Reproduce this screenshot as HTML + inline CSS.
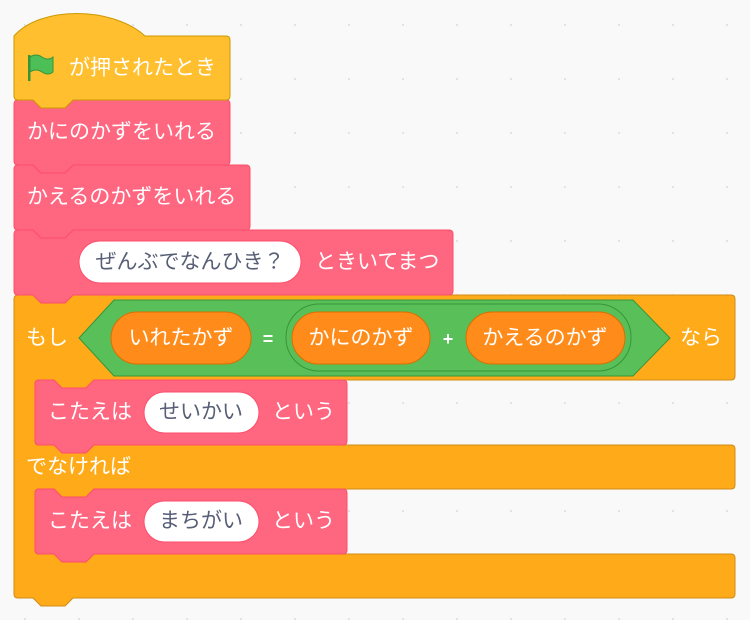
<!DOCTYPE html>
<html><head><meta charset="utf-8"><style>
html,body{margin:0;padding:0;background:#F9F9F9;}
svg{display:block}
text{font-family:"Liberation Sans","Noto Sans CJK JP",sans-serif;font-size:21px;fill:#fff;dominant-baseline:central}
.d{fill:#575E75}
</style></head><body>
<svg id="s" width="750" height="620" xmlns="http://www.w3.org/2000/svg">
<defs><pattern id="g" x="24" y="24" width="54" height="54" patternUnits="userSpaceOnUse"><circle cx="1" cy="1" r="1" fill="#dcdcdc"/></pattern></defs>
<rect width="750" height="620" fill="url(#g)"/>
<g id="blocks"></g>
</svg>
<script>
function stack(x,y,w,h){return `M${x},${y+4} Q${x},${y} ${x+4},${y} L${x+19},${y} L${x+27},${y+8} L${x+51},${y+8} L${x+59},${y} L${x+w-4},${y} Q${x+w},${y} ${x+w},${y+4} L${x+w},${y+h-4} Q${x+w},${y+h} ${x+w-4},${y+h} L${x+59},${y+h} L${x+51},${y+h+8} L${x+27},${y+h+8} L${x+19},${y+h} L${x+4},${y+h} Q${x},${y+h} ${x},${y+h-4} Z`;}
const x=14,w=721,ix=35,R=x+w;
let cP=`M${x},299 Q${x},295 ${x+4},295 L${x+19},295 L${x+27},303 L${x+51},303 L${x+59},295 L${R-4},295 Q${R},295 ${R},299 L${R},376 Q${R},380 ${R-4},380 L${ix+59},380 L${ix+51},388 L${ix+27},388 L${ix+19},380 L${ix+4},380 Q${ix},380 ${ix},384 L${ix},441 Q${ix},445 ${ix+4},445 L${R-4},445 Q${R},445 ${R},449 L${R},485 Q${R},489 ${R-4},489 L${ix+59},489 L${ix+51},497 L${ix+27},497 L${ix+19},489 L${ix+4},489 Q${ix},489 ${ix},493 L${ix},550 Q${ix},554 ${ix+4},554 L${R-4},554 Q${R},554 ${R},558 L${R},594 Q${R},598 ${R-4},598 L${x+59},598 L${x+51},606 L${x+27},606 L${x+19},598 L${x+4},598 Q${x},598 ${x},594 Z`;
const P='fill="#FF6680" stroke="#FF4D6A" stroke-width="1"';
let s='';
s+=`<path d="${cP}" fill="#FFAB19" stroke="#CF8B17"/>`;
s+=`<path d="M79,338 L114,300 L633,300 L670,338 L633,376 L114,376 Z" fill="#59C059" stroke="#389438"/>`;
s+=`<rect x="111" y="312" width="140" height="52" rx="26" fill="#FF8C1A" stroke="#DB6E00"/>`;
s+=`<text x="181" y="338" text-anchor="middle">いれたかず</text>`;
s+=`<text x="268" y="339" text-anchor="middle" style="font-size:18px;font-weight:bold">=</text>`;
s+=`<rect x="286" y="304" width="345" height="67" rx="33" fill="#59C059" stroke="#389438"/>`;
s+=`<rect x="292" y="312" width="138" height="52" rx="26" fill="#FF8C1A" stroke="#DB6E00"/>`;
s+=`<text x="361" y="338" text-anchor="middle">かにのかず</text>`;
s+=`<text x="448" y="339" text-anchor="middle" style="font-size:18px;font-weight:bold">+</text>`;
s+=`<rect x="466" y="312" width="159" height="52" rx="26" fill="#FF8C1A" stroke="#DB6E00"/>`;
s+=`<text x="545" y="338" text-anchor="middle">かえるのかず</text>`;
s+=`<text x="26" y="338">もし</text><text x="680" y="338">なら</text>`;
s+=`<text x="26" y="467">でなければ</text>`;
[[380,'せいかい'],[489,'まちがい']].forEach(([y,t])=>{
 s+=`<path d="${stack(35,y,312,65)}" ${P}/>`;
 s+=`<text x="48" y="${y+32}">こたえは</text>`;
 s+=`<rect x="144" y="${y+12}" width="115" height="41" rx="20.5" fill="#fff" stroke="#FF4D6A"/>`;
 s+=`<text class="d" x="201" y="${y+32}" text-anchor="middle">${t}</text>`;
 s+=`<text x="272" y="${y+32}">という</text>`;
});
s+=`<path d="${stack(14,230,439,65)}" ${P}/>`;
s+=`<rect x="79" y="241" width="222" height="42" rx="21" fill="#fff" stroke="#FF4D6A"/>`;
s+=`<text class="d" x="190" y="262" text-anchor="middle">ぜんぶでなんひき？</text>`;
s+=`<text x="315" y="262">ときいてまつ</text>`;
s+=`<path d="${stack(14,165,236,65)}" ${P}/>`;
s+=`<text x="27" y="197">かえるのかずをいれる</text>`;
s+=`<path d="${stack(14,100,216,65)}" ${P}/>`;
s+=`<text x="27" y="132">かにのかずをいれる</text>`;
s+=`<path d="M14,36 C40,6 112,6 145,36 L226,36 Q230,36 230,40 L230,96 Q230,100 226,100 L73,100 L65,108 L41,108 L33,100 L18,100 Q14,100 14,96 Z" fill="#FFBF2F" stroke="#CC9900"/>`;
s+=`<rect x="28" y="55" width="2.5" height="26" fill="#389438"/><path d="M30,57 Q36,53 42,57 Q48,61 53,57 L53,72 Q48,76 42,72 Q36,68 30,72 Z" fill="#4CBF56" stroke="#389438" stroke-width="1"/>`;
s+=`<text x="69" y="68">が押されたとき</text>`;
document.getElementById('blocks').innerHTML=s;
</script>
</body></html>
